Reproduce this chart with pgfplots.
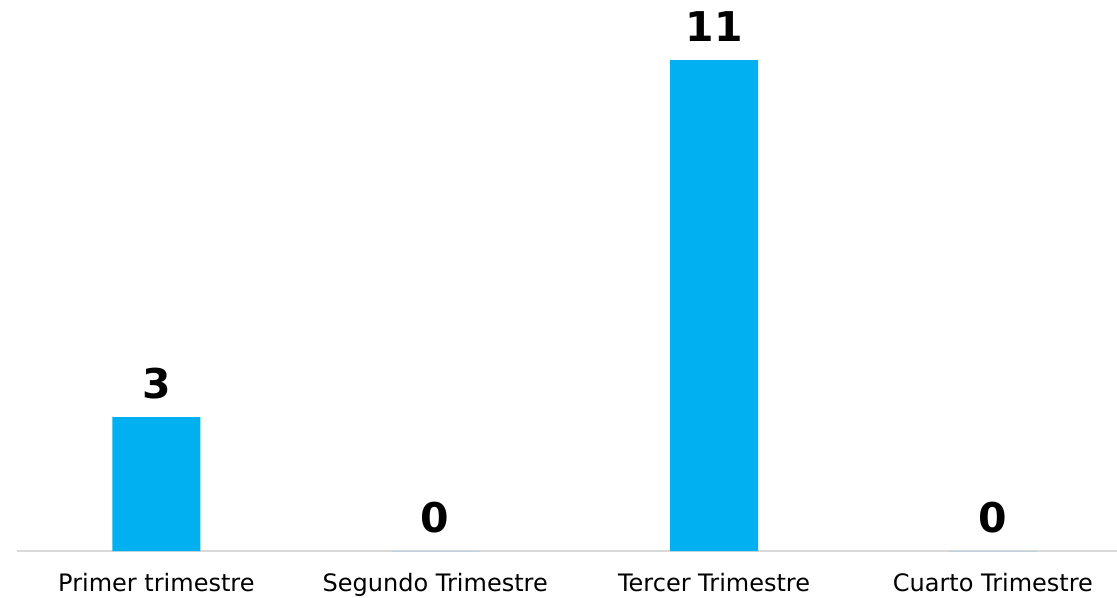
\documentclass[border=0pt]{standalone}
\usepackage{fontspec}
\setmainfont{DejaVu Sans}
\usepackage{pgfplots}
\pgfplotsset{compat=1.18}
\definecolor{barblue}{HTML}{00B0F0}
\definecolor{axisgray}{HTML}{D9D9D9}

\begin{document}
\begin{tikzpicture}
\begin{axis}[
    scale only axis,
    width=1100bp,
    height=551bp,
    ybar,
    bar width=88bp,
    xmin=-0.5, xmax=3.445,
    ymin=0, ymax=12.35,
    axis y line=none,
    axis x line*=bottom,
    x axis line style={draw=axisgray, line width=2bp, -},
    xtick=data,
    xticklabels={Primer trimestre, Segundo Trimestre, Tercer Trimestre, Cuarto Trimestre},
    major tick length=0pt,
    xticklabel style={font=\fontsize{24bp}{28bp}\selectfont, anchor=base, yshift=-40bp, inner sep=0pt},
    nodes near coords={\pgfmathprintnumber[assume math mode=true]{\pgfplotspointmeta}},
    every node near coord/.append style={font=\fontsize{41bp}{46bp}\selectfont\bfseries, anchor=base, inner sep=0pt, yshift=19bp, black},
    clip=false,
]
\addplot[fill=barblue, draw=none] coordinates {
    (0,3)
    (1,0)
    (2,11)
    (3,0)
};
\end{axis}
\pgfresetboundingbox
\path ([xshift=-17bp,yshift=-46bp]current axis.south west) rectangle (current axis.north east);
\end{tikzpicture}
\end{document}
